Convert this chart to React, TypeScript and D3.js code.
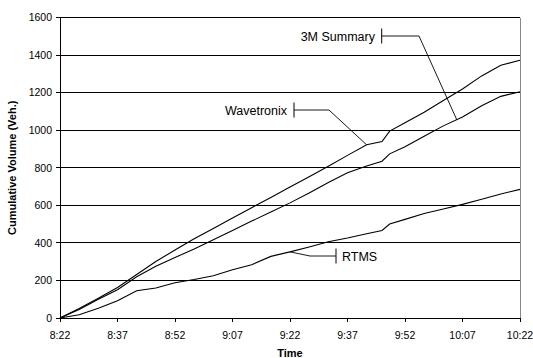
import { line, scaleLinear } from "d3";

const W = 533;
const H = 358;
const MARGIN = { top: 17.5, left: 60, bottom: 40, right: 13 };

// minutes after 8:22
const minutes = [0, 5, 10, 15, 20, 25, 30, 35, 40, 45, 50, 55, 60, 65, 70, 75, 80, 84, 86, 90, 95, 100, 105, 110, 115, 120];

const wavetronix = [0, 50, 105, 162, 232, 301, 362, 422, 477, 532, 587, 642, 697, 752, 808, 866, 922, 940, 995, 1040, 1096, 1158, 1219, 1289, 1346, 1372];
const summary3m = [0, 45, 100, 150, 220, 275, 322, 368, 417, 466, 516, 564, 613, 665, 722, 773, 809, 835, 874, 912, 968, 1023, 1070, 1130, 1180, 1205];
const rtms = [0, 17, 52, 92, 145, 160, 188, 205, 225, 257, 284, 328, 352, 378, 406, 426, 449, 466, 500, 525, 556, 580, 605, 632, 660, 685];

const timeTicks = [0, 15, 30, 45, 60, 75, 90, 105, 120];
const timeLabels = ["8:22", "8:37", "8:52", "9:07", "9:22", "9:37", "9:52", "10:07", "10:22"];
const volumeTicks = [0, 200, 400, 600, 800, 1000, 1200, 1400, 1600];

const FONT = "'Liberation Sans', Arial, sans-serif";

// value of a series at a given minute (straight line between read points)
function valueAt(series: number[], t: number) {
  for (let i = 1; i < minutes.length; i++) {
    if (t <= minutes[i]) {
      const f = (t - minutes[i - 1]) / (minutes[i] - minutes[i - 1]);
      return series[i - 1] + f * (series[i] - series[i - 1]);
    }
  }
  return series[series.length - 1];
}

function CumulativeChart() {
  const boundsWidth = W - MARGIN.left - MARGIN.right;
  const boundsHeight = H - MARGIN.top - MARGIN.bottom;

  const xScale = scaleLinear().domain([0, 120]).range([0, boundsWidth]);
  const yScale = scaleLinear().domain([0, 1600]).range([boundsHeight, 0]);

  const makePath = (series: number[]) =>
    line<number>()
      .x((_, i) => xScale(minutes[i]))
      .y((d) => yScale(d))(series) || "";

  const series = [
    { name: "Wavetronix", values: wavetronix },
    { name: "3M Summary", values: summary3m },
    { name: "RTMS", values: rtms },
  ];

  // callouts: label box position (px), elbow, and the minute the leader points at
  const callouts = [
    { text: "3M Summary", values: summary3m, at: 103.5, textX: 375, barX: 381.7, y: 36, elbowX: 419 },
    { text: "Wavetronix", values: wavetronix, at: 80, textX: 287, barX: 294, y: 110, elbowX: 329 },
    { text: "RTMS", values: rtms, at: 60, textX: 342, barX: 336, y: 256, elbowX: 310, left: true },
  ];

  return (
    <svg width={W} height={H} style={{ position: "absolute", left: 0, top: 0, background: "#fff" }}>
      <rect width={W} height={H} fill="#fff" />
      <g transform={`translate(${MARGIN.left},${MARGIN.top})`}>
        {volumeTicks.map((v) => (
          <g key={v}>
            <line x1={0} x2={boundsWidth} y1={yScale(v)} y2={yScale(v)} stroke="#000" strokeWidth={1} shapeRendering="crispEdges" />
            <line x1={-4} x2={0} y1={yScale(v)} y2={yScale(v)} stroke="#000" shapeRendering="crispEdges" />
            <text x={-8} y={yScale(v)} dy="0.36em" textAnchor="end" fontSize={10.5} fontFamily={FONT} fill="#000">
              {v}
            </text>
          </g>
        ))}
        <line x1={boundsWidth} x2={boundsWidth} y1={0} y2={boundsHeight} stroke="#888" shapeRendering="crispEdges" />
        <line x1={0} x2={0} y1={0} y2={boundsHeight} stroke="#000" shapeRendering="crispEdges" />
        <line x1={0} x2={boundsWidth} y1={boundsHeight} y2={boundsHeight} stroke="#000" shapeRendering="crispEdges" />
        {timeTicks.map((t, i) => (
          <g key={t}>
            <line x1={xScale(t)} x2={xScale(t)} y1={boundsHeight} y2={boundsHeight + 4} stroke="#000" shapeRendering="crispEdges" />
            <text x={xScale(t)} y={boundsHeight + 21} textAnchor="middle" fontSize={10.5} fontFamily={FONT} fill="#000">
              {timeLabels[i]}
            </text>
          </g>
        ))}
        {series.map((s) => (
          <path key={s.name} d={makePath(s.values)} fill="none" stroke="#000" strokeWidth={1.1} />
        ))}
      </g>

      {callouts.map((c) => {
        const px = MARGIN.left + xScale(c.at);
        const py = MARGIN.top + yScale(valueAt(c.values, c.at));
        return (
          <g key={c.text}>
            <line x1={c.barX} x2={c.barX} y1={c.y - 7.5} y2={c.y + 7.5} stroke="#000" strokeWidth={1} />
            <polyline points={`${c.barX},${c.y} ${c.elbowX},${c.y} ${px},${py}`} fill="none" stroke="#000" strokeWidth={0.9} />
            <text
              x={c.left ? c.textX : c.textX}
              y={c.y}
              dy="0.36em"
              textAnchor={c.left ? "start" : "end"}
              fontSize={12.5}
              fontFamily={FONT}
              fill="#000"
            >
              {c.text}
            </text>
          </g>
        );
      })}

      <text
        transform={`translate(16,${MARGIN.top + boundsHeight / 2}) rotate(-90)`}
        textAnchor="middle"
        fontSize={11}
        fontWeight="bold"
        fontFamily={FONT}
        fill="#000"
      >
        Cumulative Volume (Veh.)
      </text>
      <text x={MARGIN.left + boundsWidth / 2} y={356.5} textAnchor="middle" fontSize={11} fontWeight="bold" fontFamily={FONT} fill="#000">
        Time
      </text>
    </svg>
  );
}

export default function App() {
  return <CumulativeChart />;
}
